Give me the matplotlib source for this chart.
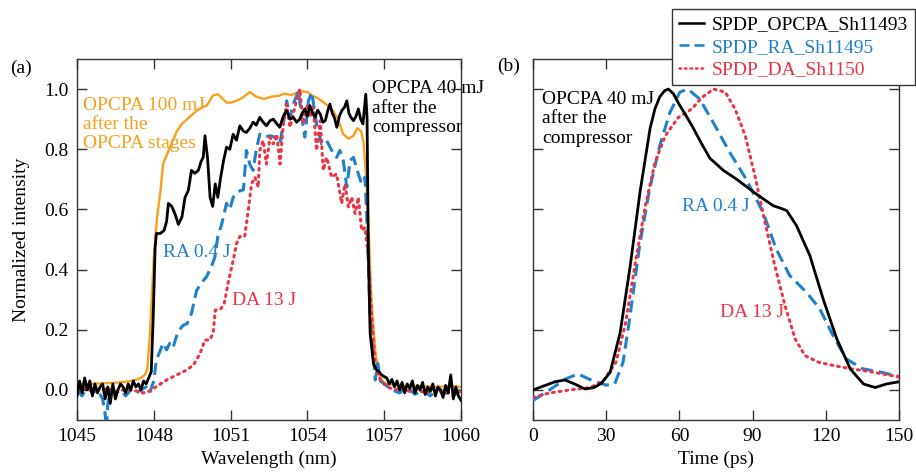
import matplotlib
matplotlib.use("Agg")
import matplotlib.pyplot as plt

plt.rcParams["font.family"] = ["Liberation Serif", "DejaVu Serif"]
plt.rcParams["font.size"] = 14

ORANGE = "#F8A01C"
BLUE = "#1F80CC"
RED = "#EE3342"
BLACK = "#000000"
FRAME = "#333333"

# ---- panel (a): spectra ----
wl_opcpa100 = [1045.0, 1045.5, 1046.0, 1046.5, 1047.0, 1047.3, 1047.5, 1047.65, 1047.75, 1047.85,
               1048.0, 1048.13, 1048.26, 1048.36, 1048.45, 1048.65, 1048.9, 1049.1, 1049.3, 1049.5,
               1049.7, 1049.9, 1050.07, 1050.3, 1050.5, 1050.6, 1050.85, 1051.0, 1051.2, 1051.45,
               1051.75, 1052.0, 1052.3, 1052.6, 1052.9, 1053.1, 1053.4, 1053.7, 1054.0, 1054.2,
               1054.4, 1054.65, 1054.85, 1055.0, 1055.2, 1055.4, 1055.6, 1055.8, 1055.95, 1056.1,
               1056.2, 1056.3, 1056.4, 1056.5, 1056.65, 1056.8, 1057.0, 1057.5, 1058.0, 1058.5,
               1059.0, 1059.5, 1060.0]
int_opcpa100 = [0.02, 0.02, 0.022, 0.024, 0.028, 0.033, 0.04, 0.05, 0.07, 0.19,
                0.44, 0.575, 0.66, 0.75, 0.77, 0.81, 0.86, 0.885, 0.90, 0.915,
                0.93, 0.94, 0.945, 0.978, 0.983, 0.975, 0.955, 0.955, 0.96, 0.97,
                0.99, 0.975, 0.967, 0.975, 0.978, 0.985, 0.98, 0.994, 0.99, 0.978,
                0.97, 0.955, 0.94, 0.928, 0.90, 0.85, 0.835, 0.845, 0.87, 0.86,
                0.82, 0.70, 0.52, 0.30, 0.13, 0.05, 0.022, 0.015, 0.012, 0.012,
                0.01, 0.012, 0.01]

wl_opcpa40 = [1045.0, 1045.1, 1045.2, 1045.3, 1045.4, 1045.5, 1045.6, 1045.7, 1045.8, 1045.9,
              1046.0, 1046.1, 1046.2, 1046.3, 1046.4, 1046.5, 1046.6, 1046.7, 1046.8, 1046.9,
              1047.0, 1047.1, 1047.2, 1047.3, 1047.4, 1047.5, 1047.6, 1047.7, 1047.8,
              1047.9, 1047.98, 1048.05, 1048.1, 1048.25, 1048.4, 1048.5, 1048.57, 1048.7, 1048.83,
              1048.96, 1049.1, 1049.22, 1049.35, 1049.47, 1049.6, 1049.74, 1049.85, 1049.93, 1050.0,
              1050.1, 1050.2, 1050.3, 1050.4, 1050.5, 1050.6, 1050.72, 1050.84, 1050.97, 1051.1,
              1051.23, 1051.36, 1051.5, 1051.62, 1051.75, 1051.88, 1052.0, 1052.14, 1052.27, 1052.4,
              1052.54, 1052.67, 1052.8, 1052.92, 1053.06, 1053.19, 1053.32, 1053.45, 1053.58, 1053.7,
              1053.8, 1053.9, 1054.0, 1054.1, 1054.2, 1054.3, 1054.4, 1054.5, 1054.6, 1054.7,
              1054.8, 1054.88, 1054.97, 1055.05, 1055.15, 1055.25, 1055.34, 1055.45, 1055.54, 1055.62,
              1055.7, 1055.8, 1055.9, 1055.99, 1056.08, 1056.17, 1056.28, 1056.33, 1056.38, 1056.45,
              1056.58, 1056.7, 1056.8, 1056.9, 1057.0,
              1057.1, 1057.2, 1057.3, 1057.4, 1057.5, 1057.6, 1057.7, 1057.8, 1057.9, 1058.0,
              1058.1, 1058.2, 1058.3, 1058.4, 1058.5, 1058.6, 1058.7, 1058.8, 1058.9, 1059.0,
              1059.1, 1059.2, 1059.3, 1059.4, 1059.5, 1059.6, 1059.7, 1059.8, 1059.9, 1060.0]
int_opcpa40 = [-0.02, 0.03, -0.01, 0.04, 0.0, 0.03, -0.02, 0.02, -0.01, 0.01,
               0.02, -0.03, 0.01, -0.045, 0.02, -0.03, 0.0, 0.02, 0.01, -0.01,
               0.02, 0.0, 0.03, 0.01, 0.02, 0.0, 0.03, 0.02, 0.04,
               0.06, 0.25, 0.47, 0.52, 0.52, 0.53, 0.56, 0.62, 0.61, 0.585,
               0.55, 0.575, 0.64, 0.663, 0.73, 0.72, 0.73, 0.76, 0.773, 0.845,
               0.77, 0.64, 0.61, 0.685, 0.64, 0.70, 0.76, 0.807, 0.80, 0.85,
               0.83, 0.878, 0.86, 0.856, 0.87, 0.89, 0.88, 0.906, 0.89, 0.878,
               0.895, 0.90, 0.885, 0.873, 0.91, 0.928, 0.90, 0.906, 0.89, 0.90,
               0.92, 0.934, 0.91, 0.945, 0.92, 0.906, 0.93, 0.917, 0.89, 0.895,
               0.93, 0.95, 0.92, 0.906, 0.873, 0.91, 0.928, 0.94, 0.961, 0.92,
               0.906, 0.895, 0.91, 0.934, 0.9, 0.884, 0.983, 0.906, 0.464, 0.188,
               0.088, 0.066, 0.06, 0.05, 0.044,
               0.04, 0.02, 0.035, 0.01, 0.03, 0.0, 0.025, -0.01, 0.02, 0.005,
               0.03, -0.01, 0.015, 0.0, 0.025, -0.015, 0.01, -0.005, 0.02, -0.02,
               0.01, 0.0, -0.025, 0.015, -0.01, 0.05, -0.03, 0.01, -0.02, -0.035]

wl_ra = [1045.0, 1045.2, 1045.4, 1045.6, 1045.8, 1046.0, 1046.1, 1046.15, 1046.2, 1046.3,
         1046.5, 1046.7, 1046.9, 1047.1, 1047.3, 1047.5, 1047.7, 1047.84, 1048.0, 1048.1,
         1048.2, 1048.36, 1048.5, 1048.62, 1048.75, 1048.88, 1049.0, 1049.15, 1049.3, 1049.47,
         1049.67, 1049.85, 1050.06, 1050.25, 1050.38, 1050.5, 1050.65, 1050.84, 1050.97, 1051.1,
         1051.3, 1051.5, 1051.62, 1051.75, 1051.88, 1052.0, 1052.14, 1052.33, 1052.54, 1052.73,
         1052.92, 1053.06, 1053.19, 1053.32, 1053.45, 1053.65, 1053.78, 1053.9, 1054.04, 1054.17,
         1054.36, 1054.55, 1054.75, 1054.95, 1055.14, 1055.27, 1055.4, 1055.54, 1055.67, 1055.8,
         1055.99, 1056.12, 1056.25, 1056.32, 1056.45, 1056.65, 1056.75, 1056.85, 1057.0, 1057.3,
         1057.6, 1057.9, 1058.2, 1058.5, 1058.8, 1059.1, 1059.4, 1059.7, 1060.0]
int_ra = [0.0, -0.02, 0.01, -0.01, 0.0, -0.03, -0.08, -0.13, -0.05, 0.0,
          -0.01, 0.0, -0.02, 0.0, -0.01, 0.0, 0.01, -0.01, 0.03, 0.10,
          0.12, 0.155, 0.133, 0.155, 0.14, 0.177, 0.20, 0.215, 0.22, 0.254,
          0.33, 0.354, 0.376, 0.41, 0.44, 0.51, 0.55, 0.62, 0.60, 0.64,
          0.66, 0.665, 0.796, 0.75, 0.73, 0.796, 0.85, 0.84, 0.845, 0.84,
          0.818, 0.884, 0.961, 0.906, 0.95, 0.994, 0.906, 0.84, 0.961, 0.989,
          0.884, 0.818, 0.829, 0.796, 0.773, 0.796, 0.763, 0.674, 0.763, 0.773,
          0.718, 0.685, 0.707, 0.575, 0.243, 0.033, 0.088, 0.03, 0.02, 0.0,
          -0.01, 0.01, -0.015, 0.0, -0.02, 0.005, -0.01, -0.02, 0.0]

wl_da = [1045.0, 1045.3, 1045.6, 1045.9, 1046.2, 1046.5, 1046.8, 1047.1, 1047.4, 1047.58,
         1047.8, 1048.1, 1048.5, 1048.9, 1049.28, 1049.55, 1049.8, 1050.0, 1050.19, 1050.32,
         1050.4, 1050.62, 1050.75, 1050.9, 1051.1, 1051.23, 1051.36, 1051.55, 1051.69, 1051.82,
         1051.95, 1052.08, 1052.14, 1052.27, 1052.4, 1052.54, 1052.67, 1052.8, 1052.93, 1053.06,
         1053.19, 1053.32, 1053.51, 1053.7, 1053.84, 1054.0, 1054.1, 1054.23, 1054.36, 1054.5,
         1054.62, 1054.75, 1054.95, 1055.14, 1055.34, 1055.47, 1055.6, 1055.73, 1055.86, 1055.99,
         1056.12, 1056.25, 1056.38, 1056.51, 1056.65, 1056.85, 1057.1, 1057.4, 1057.7, 1058.0,
         1058.3, 1058.6, 1058.9, 1059.2, 1059.5, 1059.8, 1060.0]
int_da = [0.0, 0.005, -0.005, 0.0, 0.005, -0.005, 0.0, 0.0, -0.005, -0.01,
          -0.005, 0.011, 0.033, 0.05, 0.066, 0.083, 0.12, 0.166, 0.166, 0.19,
          0.265, 0.27, 0.287, 0.354, 0.43, 0.486, 0.51, 0.51, 0.597, 0.685,
          0.707, 0.674, 0.796, 0.829, 0.751, 0.84, 0.818, 0.85, 0.751, 0.884,
          0.95, 0.873, 0.939, 1.0, 0.884, 0.95, 0.906, 0.939, 0.796, 0.895,
          0.73, 0.773, 0.707, 0.718, 0.62, 0.685, 0.608, 0.64, 0.586, 0.64,
          0.53, 0.54, 0.442, 0.243, 0.077, 0.033, 0.011, 0.0, 0.005, -0.005,
          0.0, -0.01, 0.0, -0.005, -0.01, 0.0, -0.005]

# ---- panel (b): temporal profiles ----
t_opcpa = [0, 5, 9, 13, 17, 21.3, 25, 28, 31.6, 35.7,
           39.8, 43.9, 48, 50, 52, 54, 55.5, 57.5, 60.2, 62.5,
           65.7, 69, 72.5, 78, 83.5, 91.7, 98.5, 101.5, 104, 108,
           113.5, 119, 124.5, 130, 135.4, 140.2, 145, 150]
p_opcpa = [0.0, 0.015, 0.027, 0.033, 0.02, 0.003, 0.008, 0.022, 0.058, 0.19,
           0.41, 0.66, 0.87, 0.935, 0.975, 0.995, 1.0, 0.985, 0.945, 0.915,
           0.87, 0.82, 0.77, 0.73, 0.70, 0.65, 0.612, 0.604, 0.596, 0.546,
           0.446, 0.30, 0.17, 0.07, 0.02, 0.008, 0.02, 0.027]

t_ra = [0, 6.8, 13, 18.4, 24.6, 30, 33.5, 36.9, 39.6, 43.7,
        47.8, 51.9, 56, 60.2, 63.5, 68.3, 73.8, 80.6, 87.4, 94.3,
        99.7, 105.2, 112, 117.5, 123, 128.4, 135.2, 142, 150]
p_ra = [-0.035, 0.0, 0.035, 0.053, 0.03, 0.016, 0.02, 0.092, 0.236, 0.48,
        0.668, 0.81, 0.92, 0.99, 1.0, 0.967, 0.89, 0.79, 0.70, 0.59,
        0.468, 0.38, 0.325, 0.27, 0.18, 0.103, 0.07, 0.06, 0.045]

t_da = [0, 6.8, 15, 23, 28.5, 34, 38, 42, 46, 50,
        54.2, 59.6, 65.1, 69.2, 74, 78.8, 82.8, 87, 91, 95.1,
        99.2, 103.3, 107.4, 111.5, 117, 123.8, 130.6, 138.8, 150]
p_da = [-0.025, -0.01, 0.0, 0.007, 0.027, 0.092, 0.225, 0.425, 0.61, 0.756,
        0.845, 0.906, 0.934, 0.972, 1.0, 0.99, 0.934, 0.845, 0.71, 0.556,
        0.41, 0.28, 0.17, 0.114, 0.092, 0.08, 0.07, 0.06, 0.043]

legend_labels = ["SPDP_OPCPA_Sh11493", "SPDP_RA_Sh11495", "SPDP_DA_Sh1150"]

W, H = 916, 475
fig = plt.figure(figsize=(W / 100, H / 100), dpi=100)
ax1 = fig.add_axes([77 / W, 1 - 420 / H, 384 / W, 361 / H])
ax2 = fig.add_axes([533 / W, 1 - 420 / H, 366 / W, 361 / H])

dash = (0, (4, 2))
dot = (0, (0.6, 1.6))

ax1.plot(wl_opcpa100, int_opcpa100, color=ORANGE, lw=1.7, zorder=2)
ax1.plot(wl_ra, int_ra, color=BLUE, lw=2.2, ls=dash, zorder=3)
ax1.plot(wl_da, int_da, color=RED, lw=2.2, ls=dot, dash_capstyle="round", zorder=4)
ax1.plot(wl_opcpa40, int_opcpa40, color=BLACK, lw=2.0, zorder=5)

l1, = ax2.plot(t_opcpa, p_opcpa, color=BLACK, lw=2.0, zorder=5)
l2, = ax2.plot(t_ra, p_ra, color=BLUE, lw=2.2, ls=dash, zorder=3)
l3, = ax2.plot(t_da, p_da, color=RED, lw=2.2, ls=dot, dash_capstyle="round", zorder=4)

for ax in (ax1, ax2):
    ax.set_ylim(-0.1, 1.1)
    ax.set_yticks([0.0, 0.2, 0.4, 0.6, 0.8, 1.0])
    ax.tick_params(direction="in", length=7.5, width=1, top=True, right=True,
                   color=FRAME, pad=6, labelsize=14)
    for s in ax.spines.values():
        s.set_color(FRAME)
        s.set_linewidth(1.0)

ax1.set_xlim(1045, 1060)
ax1.set_xticks([1045, 1048, 1051, 1054, 1057, 1060])
ax1.set_yticklabels(["0.0", "0.2", "0.4", "0.6", "0.8", "1.0"])
ax1.set_xlabel("Wavelength (nm)", fontsize=14, labelpad=4)
ax1.set_ylabel("Normalized intensity", fontsize=14, labelpad=10)

ax2.set_xlim(0, 150)
ax2.set_xticks([0, 30, 60, 90, 120, 150])
ax2.tick_params(labelleft=False)
ax2.set_xlabel("Time (ps)", fontsize=14, labelpad=4)

ax1.text(1045.23, 0.975, "OPCPA 100 mJ\nafter the\nOPCPA stages", color=ORANGE,
         va="top", ha="left", linespacing=1.15)
ax1.text(1056.52, 1.03, "OPCPA 40 mJ\nafter the\ncompressor", color=BLACK,
         va="top", ha="left", linespacing=1.2)
ax1.text(1048.36, 0.457, "RA 0.4 J", color=BLUE, va="center", ha="left")
ax1.text(1051.05, 0.298, "DA 13 J", color=RED, va="center", ha="left")

ax2.text(3.7, 0.995, "OPCPA 40 mJ\nafter the\ncompressor", color=BLACK,
         va="top", ha="left", linespacing=1.2)
ax2.text(61, 0.611, "RA 0.4 J", color=BLUE, va="center", ha="left")
ax2.text(76.6, 0.259, "DA 13 J", color=RED, va="center", ha="left")

fig.text(10 / W, 1 - 68 / H, "(a)", va="center", ha="left", fontsize=14)
fig.text(497 / W, 1 - 66 / H, "(b)", va="center", ha="left", fontsize=14)

leg = fig.legend([l1, l2, l3], legend_labels, loc="upper right",
                 bbox_to_anchor=(915 / W, 1 - 9 / H), borderaxespad=0,
                 fancybox=False, framealpha=1, edgecolor=FRAME,
                 fontsize=14, handlelength=1.3, handletextpad=0.4,
                 labelspacing=0.25, borderpad=0.35)
leg.get_frame().set_linewidth(1.0)
for txt, c in zip(leg.get_texts(), [BLACK, BLUE, RED]):
    txt.set_color(c)
for h in leg.get_lines():
    h.set_linewidth(1.8)

fig.savefig("out.png", dpi=100)
